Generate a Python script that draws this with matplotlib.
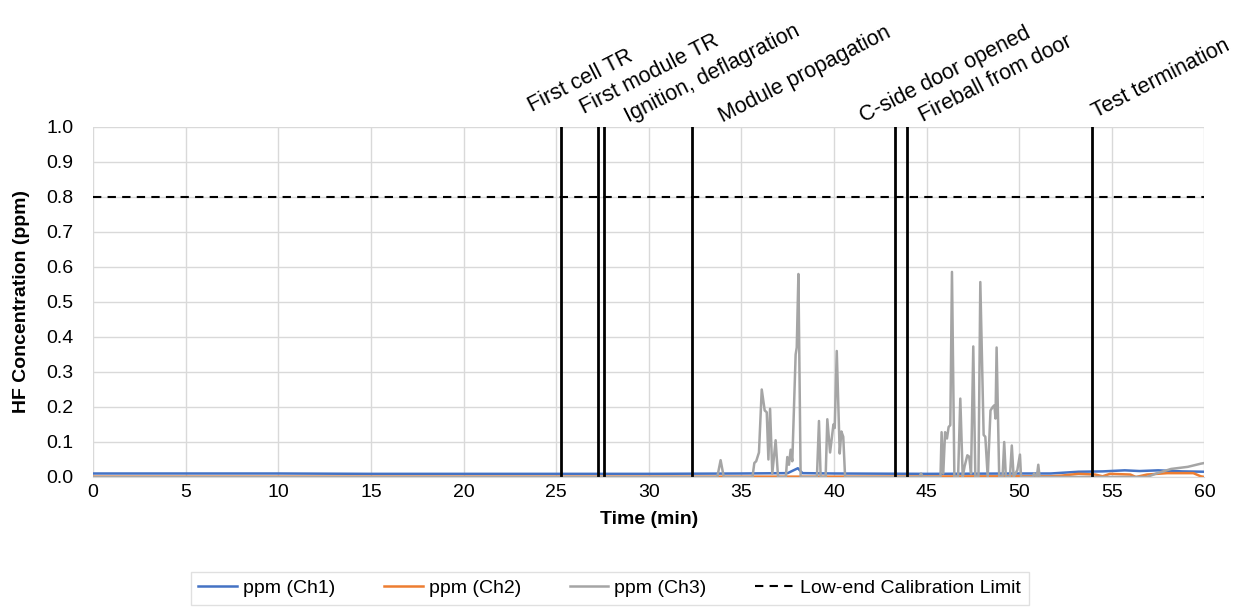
import matplotlib.pyplot as plt
from matplotlib import font_manager

# pick a narrow sans if there is one (the original is Calibri)
names = {f.name for f in font_manager.fontManager.ttflist}
font = 'Liberation Sans Narrow' if 'Liberation Sans Narrow' in names else 'Liberation Sans'
plt.rcParams['font.family'] = [font, 'DejaVu Sans']

# Ch1 (blue) - flat near 0.01, slight rise after ~52 min
t1 = [0, 5, 10, 15, 20, 25, 30, 35, 37.5, 38.05, 38.3, 40, 45, 50, 51.7, 53.2, 54.5, 55.7, 56.5, 57.5, 58.8, 60]
v1 = [0.010, 0.010, 0.010, 0.009, 0.009, 0.009, 0.009, 0.010, 0.011, 0.025, 0.011, 0.010, 0.009, 0.010, 0.010, 0.015, 0.016, 0.019, 0.017, 0.019, 0.016, 0.015]

# Ch2 (orange) - ~0 until ~51 min, then ~0.01
t2 = [0, 10, 20, 30, 40, 50, 51.7, 52.3, 53.2, 54.1, 54.5, 54.9, 56.0, 56.3, 56.9, 58.0, 59.4, 59.8, 60]
v2 = [0.001, 0.001, 0.001, 0.001, 0.001, 0.002, 0.002, 0.004, 0.009, 0.007, 0.002, 0.009, 0.007, 0.000, 0.007, 0.011, 0.011, 0.002, 0.000]

# Ch3 (grey) - spikes between 33 and 51 min
t3 = [0, 33.7, 33.88, 34.05, 35.6, 35.7, 35.8, 35.95, 36.1, 36.26, 36.37, 36.46, 36.55, 36.67,
      36.85, 36.98, 37.4, 37.48, 37.57, 37.66, 37.75, 37.93, 37.99, 38.08, 38.2, 39.08, 39.19,
      39.28, 39.55, 39.64, 39.79, 39.97, 40.04, 40.15, 40.31, 40.4, 40.5, 40.6, 44.6, 44.7, 44.8,
      45.75, 45.81, 45.9, 46.0, 46.1, 46.19, 46.28, 46.37, 46.5, 46.7, 46.82, 46.95, 47.05, 47.2,
      47.3, 47.4, 47.52, 47.63, 47.8, 47.9, 48.08, 48.17, 48.3, 48.45, 48.57, 48.66, 48.72, 48.78,
      48.92, 49.1, 49.19, 49.28, 49.5, 49.6, 49.7, 49.9, 50.04, 50.1, 50.75, 50.8, 50.95, 51.03,
      51.1, 56.9, 57.4, 58.2, 59.1, 59.8, 60]
v3 = [0.0, 0.0, 0.048, 0.0, 0.0, 0.04, 0.045, 0.07, 0.25, 0.19, 0.185, 0.05, 0.195, 0.01,
      0.105, 0.0, 0.0, 0.057, 0.035, 0.078, 0.045, 0.35, 0.37, 0.58, 0.0, 0.0, 0.16,
      0.0, 0.0, 0.165, 0.07, 0.15, 0.14, 0.36, 0.067, 0.13, 0.115, 0.0, 0.0, 0.01, 0.0,
      0.0, 0.128, 0.01, 0.128, 0.11, 0.143, 0.148, 0.586, 0.0, 0.0, 0.224, 0.0, 0.03, 0.062,
      0.058, 0.01, 0.373, 0.0, 0.0, 0.557, 0.12, 0.115, 0.0, 0.19, 0.2, 0.205, 0.167, 0.37,
      0.0, 0.0, 0.1, 0.0, 0.0, 0.09, 0.0, 0.02, 0.064, 0.0, 0.0, 0.01, 0.0, 0.035,
      0.0, 0.0, 0.01, 0.023, 0.029, 0.038, 0.04]

calib_limit = 0.8

event_times = [25.27, 27.27, 27.6, 32.35, 43.3, 43.95, 53.94]
event_labels = ['First cell TR', 'First module TR', 'Ignition, deflagration', 'Module propagation',
                'C-side door opened', 'Fireball from door', 'Test termination']
label_x = [23.72, 26.49, 28.91, 33.99, 41.6, 44.79, 54.13]
label_y = [1.042, 1.036, 1.013, 1.013, 1.013, 1.013, 1.025]

fig = plt.figure(figsize=(12.44, 6.12), dpi=100)
ax = fig.add_axes([0.0748, 0.2206, 0.8934, 0.5719])

ax.plot(t1, v1, color='#4472C4', lw=1.8, label='ppm (Ch1)')
ax.plot(t2, v2, color='#ED7D31', lw=1.8, label='ppm (Ch2)')
ax.plot(t3, v3, color='#A5A5A5', lw=1.8, label='ppm (Ch3)')
ax.axhline(calib_limit, color='black', lw=1.5, ls=(0, (4, 3)), label='Low-end Calibration Limit')

for t in event_times:
    ax.axvline(t, color='black', lw=2)
for x, y, s in zip(label_x, label_y, event_labels):
    ax.text(x, y, s, rotation=27, rotation_mode='anchor', ha='left', va='baseline',
            fontsize=15.5, clip_on=False)

ax.set_xlim(0, 60)
ax.set_ylim(0, 1.0)
ax.set_xticks(range(0, 61, 5))
ax.set_yticks([i / 10 for i in range(11)])
ax.set_yticklabels([f'{i / 10:.1f}' for i in range(11)])
ax.grid(color='#D9D9D9', lw=1)
ax.set_axisbelow(True)
for side in ['top', 'right', 'left']:
    ax.spines[side].set_visible(False)
ax.spines['bottom'].set_color('#D9D9D9')
ax.tick_params(length=0, labelsize=14)
ax.tick_params(axis='x', pad=5)
ax.tick_params(axis='y', pad=14)

ax.set_xlabel('Time (min)', fontsize=14, fontweight='bold', labelpad=7)
ax.set_ylabel('HF Concentration (ppm)', fontsize=14, fontweight='bold', labelpad=12)

leg = fig.legend(loc='upper center', bbox_to_anchor=(0.49, 0.066), ncol=4, fontsize=14,
                 frameon=True, fancybox=False, edgecolor='#D9D9D9', handlelength=2,
                 columnspacing=2.5, handletextpad=0.3, borderaxespad=0)
leg.get_frame().set_linewidth(1)

fig.savefig('out.png', dpi=100)
